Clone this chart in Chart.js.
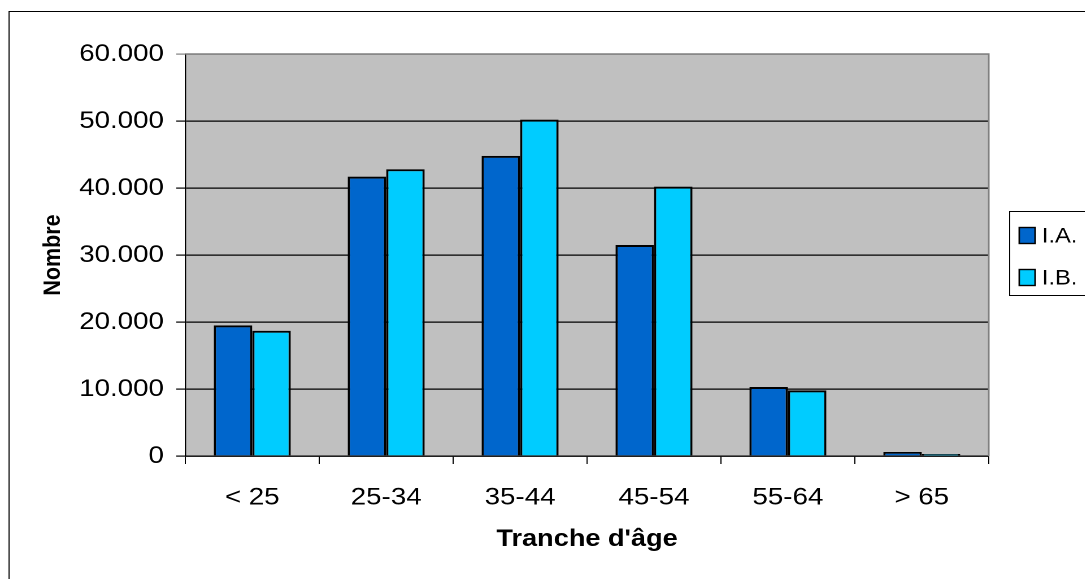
<!DOCTYPE html>
<html>
<head>
<meta charset="utf-8">
<script src="https://cdn.jsdelivr.net/npm/chart.js@4/dist/chart.umd.min.js"></script>
<style>
  html, body { margin: 0; padding: 0; background: #fff; overflow: hidden; }
  /* the original picture is stretched sideways, so draw narrow and widen it */
  .chart__wrapper {
    width: 960px;
    height: 579px;
    transform: scaleX(1.13);
    transform-origin: 0 0;
  }
</style>
</head>
<body>
<div class="chart__wrapper">
  <canvas id="age-chart" width="960" height="579"></canvas>
</div>
<script>
  const categories = ["< 25", "25-34", "35-44", "45-54", "55-64", "> 65"];
  const seriesNames = ["I.A.", "I.B."];
  const valuesIA = [19500, 41700, 44800, 31500, 10300, 600];
  const valuesIB = [18700, 42800, 50200, 40200, 9800, 300];
  const yTicks = [0, 10000, 20000, 30000, 40000, 50000, 60000];

  const colors = {
    plot: "#C0C0C0",
    plotBorder: "#808080",
    grid: "#000000",
    text: "#000000",
    ia: "#0066CC",
    ib: "#00CCFF",
  };

  const fontFamily = "'Liberation Sans', Arial, sans-serif";

  const formatThousands = (value) =>
    String(value).replace(/\B(?=(\d{3})+(?!\d))/g, ".");

  // grey plot background, frame round the whole chart
  const backgroundPlugin = {
    id: "plotBackground",
    beforeDraw(chart) {
      const { ctx, chartArea } = chart;
      ctx.save();
      ctx.fillStyle = colors.plot;
      ctx.fillRect(
        chartArea.left,
        chartArea.top,
        chartArea.right - chartArea.left,
        chartArea.bottom - chartArea.top
      );
      ctx.strokeStyle = "#000";
      ctx.lineWidth = 1;
      ctx.strokeRect(8, 11.5, 1000, 700);
      ctx.restore();
    },
    afterDraw(chart) {
      const { ctx, chartArea } = chart;
      ctx.save();
      ctx.strokeStyle = colors.plotBorder;
      ctx.lineWidth = 1.5;
      ctx.beginPath();
      ctx.moveTo(chartArea.left, chartArea.top);
      ctx.lineTo(chartArea.right, chartArea.top);
      ctx.lineTo(chartArea.right, chartArea.bottom);
      ctx.stroke();
      ctx.restore();
    },
  };

  // boxed legend at the right, like the spreadsheet one
  const legendPlugin = {
    id: "boxLegend",
    afterDraw(chart) {
      const { ctx } = chart;
      const box = { x: 893, y: 211, h: 84 };
      ctx.save();
      ctx.strokeStyle = "#000";
      ctx.lineWidth = 1;
      ctx.strokeRect(box.x + 0.5, box.y + 0.5, 200, box.h);
      ctx.font = "21px " + fontFamily;
      ctx.textBaseline = "middle";
      chart.data.datasets.forEach((ds, i) => {
        const rowY = 235.5 + i * 42;
        ctx.fillStyle = ds.backgroundColor;
        ctx.fillRect(902, rowY - 8, 14, 16);
        ctx.strokeStyle = "#000";
        ctx.lineWidth = 1.4;
        ctx.strokeRect(902, rowY - 8, 14, 16);
        ctx.fillStyle = colors.text;
        ctx.fillText(ds.label, 922, rowY + 1);
      });
      ctx.restore();
    },
  };

  const ctx = document.getElementById("age-chart").getContext("2d");

  new Chart(ctx, {
    type: "bar",
    data: {
      labels: categories,
      datasets: [
        {
          label: seriesNames[0],
          data: valuesIA,
          backgroundColor: colors.ia,
          borderColor: "#000",
          borderWidth: 2,
        },
        {
          label: seriesNames[1],
          data: valuesIB,
          backgroundColor: colors.ib,
          borderColor: "#000",
          borderWidth: 2,
        },
      ],
    },
    plugins: [backgroundPlugin, legendPlugin],
    options: {
      responsive: false,
      animation: false,
      devicePixelRatio: 2,
      datasets: {
        bar: {
          categoryPercentage: 0.575,
          barPercentage: 1,
        },
      },
      layout: {
        padding: { top: 54, right: 85, bottom: 0, left: 0 },
      },
      scales: {
        x: {
          afterFit(scale) {
            scale.height = 579 - 456;
          },
          grid: {
            offset: true,
            drawOnChartArea: false,
            drawTicks: true,
            tickLength: 8,
            color: colors.grid,
          },
          border: { display: true, color: colors.grid, width: 1.2 },
          ticks: {
            color: colors.text,
            padding: 19,
            maxRotation: 0,
            font: { family: fontFamily, size: 24.5 },
          },
          title: {
            display: true,
            text: "Tranche d'âge",
            color: colors.text,
            padding: { top: 0, bottom: 25 },
            font: { family: fontFamily, size: 24, weight: "bold" },
          },
        },
        y: {
          min: 0,
          max: 60000,
          afterFit(scale) {
            scale.width = 164;
          },
          afterBuildTicks(scale) {
            scale.ticks = yTicks.map((v) => ({ value: v }));
          },
          grid: {
            drawTicks: true,
            tickLength: 8,
            lineWidth: 1.2,
            color: (c) =>
              c.tick && c.tick.value === 60000 ? colors.plotBorder : colors.grid,
          },
          border: { display: true, color: colors.grid, width: 1.2 },
          ticks: {
            color: colors.text,
            padding: 11,
            font: { family: fontFamily, size: 24.5 },
            callback: (value) => formatThousands(value),
          },
          title: {
            display: true,
            text: "Nombre",
            color: colors.text,
            padding: { top: 34, bottom: 0 },
            font: { family: fontFamily, size: 21.5, weight: "bold" },
          },
        },
      },
      plugins: {
        legend: { display: false },
        title: { display: false },
        tooltip: { enabled: false },
      },
    },
  });
</script>
</body>
</html>
